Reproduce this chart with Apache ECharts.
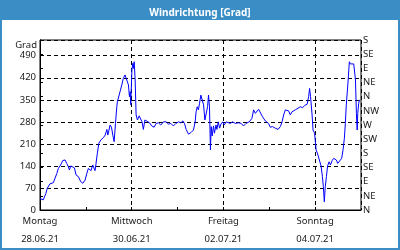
<!DOCTYPE html>
<html>
<head>
<meta charset="utf-8">
<script src="https://cdn.jsdelivr.net/npm/echarts@6/dist/echarts.min.js"></script>
<style>html,body{margin:0;padding:0;background:#fff}#c{width:400px;height:250px}</style>
</head>
<body>
<div id="c"></div>
<script>
// hours since Montag 28.06.21 00:00
var hours = [0,1.7,3.1,3.8,5.2,7.0,7.9,8.8,9.6,10.8,11.9,13.1,14.0,14.8,15.4,16.1,17.1,18.0,18.9,20.1,21.3,22.4,23.6,24.5,25.3,26.2,26.7,27.6,28.3,28.8,29.3,30.0,30.8,31.8,33.2,34.1,35.0,35.5,36.2,36.7,37.4,38.1,38.8,39.5,40.2,40.5,41.0,41.9,42.8,43.6,44.5,45.4,46.3,46.8,47.2,47.5,48.1,48.6,48.9,49.3,49.8,50.3,51.0,51.9,52.8,53.4,54.1,54.9,55.9,57.3,58.5,59.7,60.8,62.0,63.2,64.6,66.0,67.2,68.5,69.8,71.1,72.5,73.7,74.8,75.6,76.5,77.7,79.0,80.3,81.2,81.7,82.3,82.9,83.5,84.2,85.0,85.6,86.3,87.0,87.7,88.2,88.7,89.2,89.6,90.1,90.8,91.3,92.1,92.6,93.3,94.0,94.7,95.7,96.4,97.5,98.4,99.6,100.8,102.2,103.9,105.3,106.5,107.8,109.5,110.9,111.8,112.7,113.6,114.4,115.3,116.5,117.9,118.8,119.6,120.5,121.7,123.1,124.6,125.8,126.7,127.5,128.4,129.3,130.1,131.0,131.9,133.6,135.0,136.2,137.4,138.5,139.8,140.6,141.1,141.6,142.4,142.9,143.7,144.5,145.3,146.2,147.1,147.8,148.3,148.8,149.3,149.9,150.5,151.3,152.0,152.9,153.7,154.6,155.1,155.8,156.8,157.9,158.6,159.3,159.8,160.3,160.9,161.4,161.9,162.4,163.3,164.2,164.7,165.1,165.6,166.0,166.3,166.8,167.2];
var degrees = [37,32,53,69,83,87,90,116,132,143,157,159,148,138,127,140,136,134,111,106,90,85,95,116,132,138,125,143,148,125,146,180,212,222,230,238,256,238,233,270,263,238,217,275,328,344,339,376,397,418,429,423,397,360,376,334,445,466,450,471,413,302,286,299,299,280,256,286,280,277,267,263,275,277,270,280,280,273,275,267,275,280,277,283,275,256,241,246,254,280,312,328,318,339,365,362,334,286,280,328,365,328,191,265,235,267,244,270,256,280,260,273,280,270,280,283,275,280,275,277,275,267,275,280,291,318,307,302,320,315,296,283,288,275,263,265,260,256,265,280,302,318,323,315,302,312,318,323,328,325,332,336,360,386,360,302,254,244,191,178,172,140,106,74,26,74,106,140,153,143,157,164,169,159,148,153,164,191,228,275,334,381,423,471,464,461,464,466,413,307,254,307,339,350];
var dayNames = ["Montag","Mittwoch","Freitag","Sonntag"];
var dayDates = ["28.06.21","30.06.21","02.07.21","04.07.21"];
var dirLabels = ["N","NE","E","SE","S","SW","W","NW","N","NE","E","SE","S"];
var leftUnit = "Grad";
var titleText = "Windrichtung [Grad]";

var FONT = "Noto Sans";
var TXT = "#1a1a1a";
var chart = echarts.init(document.getElementById('c'), null, {renderer:'canvas'});
var pts = hours.map(function(h,i){return [h, degrees[i]];});
chart.setOption({
  animation:false,
  backgroundColor:'#ffffff',
  title:{text:titleText,left:'center',top:3,textStyle:{color:'#ffffff',fontFamily:FONT,fontWeight:'bold',fontSize:10}},
  graphic:[
    {type:'rect',shape:{x:0,y:0,width:400,height:20},style:{fill:'#3b8ec5'},z:-1},
    {type:'rect',shape:{x:1,y:1,width:398,height:248},style:{fill:null,stroke:'#3b8ec5',lineWidth:2},z:10}
  ],
  grid:{left:40,right:39,top:40,bottom:40,show:true,borderColor:'#000',borderWidth:1,backgroundColor:'#fff'},
  xAxis:[{
    type:'value',min:0,max:168,interval:24,
    axisLine:{show:true,lineStyle:{color:'#000'}},
    axisTick:{show:true,inside:true,length:3,lineStyle:{color:'#000'}},
    splitLine:{show:false},
    axisLabel:{margin:2,lineHeight:18,color:TXT,fontFamily:FONT,fontSize:9.5,showMaxLabel:false,
      formatter:function(v){var k=v/48; if(Math.round(k)===k && k<dayNames.length){return dayNames[k]+'\n'+dayDates[k];} return '';}}
  },{
    type:'value',min:0,max:168,interval:48,position:'bottom',
    axisLine:{show:false},axisTick:{show:false},axisLabel:{show:false},
    splitLine:{show:true,lineStyle:{color:'#000',type:[4,3],width:1}}
  }],
  yAxis:[{
    type:'value',min:0,max:540,interval:70,position:'left',
    name:leftUnit,nameLocation:'end',nameGap:-5,
    nameTextStyle:{color:TXT,fontFamily:FONT,fontSize:9.5,align:'right',verticalAlign:'middle',padding:[0,3,0,0]},
    axisLine:{show:true,lineStyle:{color:'#000'}},
    axisTick:{show:false},
    axisLabel:{margin:4,color:TXT,fontFamily:FONT,fontSize:9.5,showMaxLabel:false},
    splitLine:{show:true,lineStyle:{color:'#000',type:[4,3],width:1}}
  },{
    type:'value',min:0,max:540,interval:45,position:'right',
    axisLine:{show:true,lineStyle:{color:'#000'}},
    axisTick:{show:true,inside:false,length:3,lineStyle:{color:'#000'}},
    axisLabel:{margin:2,color:TXT,fontFamily:FONT,fontSize:9.5,formatter:function(v){return dirLabels[Math.round(v/45)];}},
    splitLine:{show:false}
  }],
  series:[{
    type:'line',xAxisIndex:0,yAxisIndex:0,data:pts,showSymbol:false,
    lineStyle:{color:'#0000ff',width:1},itemStyle:{color:'#0000ff'},z:5
  }]
});
</script>
</body>
</html>
